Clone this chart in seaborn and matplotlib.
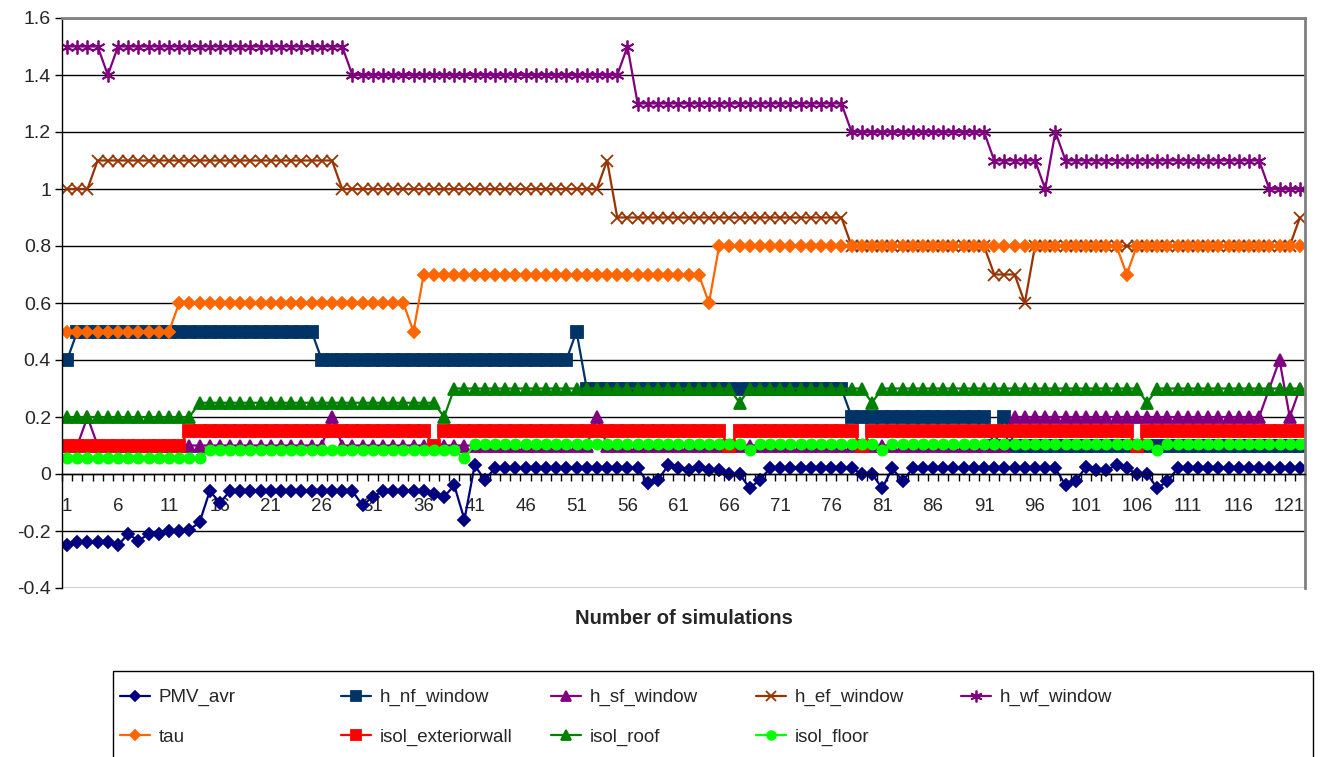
import matplotlib
matplotlib.use('Agg')
import matplotlib.pyplot as plt
import matplotlib.patches as mpatches
from matplotlib.ticker import FixedLocator
import seaborn as sns

# Simulation number (x categories) and tick labels
sims = list(range(1, 123))
xtick_pos = [1, 6, 11, 16, 21, 26, 31, 36, 41, 46, 51, 56, 61, 66, 71, 76, 81, 86, 91, 96, 101, 106, 111, 116, 121]
xtick_labels = ['1', '6', '11', '16', '21', '26', '31', '36', '41', '46', '51', '56', '61', '66', '71', '76',
                '81', '86', '91', '96', '101', '106', '111', '116', '121']
ytick_pos = [-0.4, -0.2, 0, 0.2, 0.4, 0.6, 0.8, 1.0, 1.2, 1.4, 1.6]
ytick_labels = ['-0.4', '-0.2', '0', '0.2', '0.4', '0.6', '0.8', '1', '1.2', '1.4', '1.6']

pmv_avr = [-0.25, -0.24, -0.24, -0.24, -0.24, -0.25, -0.21, -0.235, -0.21, -0.21,
           -0.20, -0.20, -0.195, -0.17, -0.06, -0.10, -0.06, -0.06, -0.06, -0.06,
           -0.06, -0.06, -0.06, -0.06, -0.06, -0.06, -0.06, -0.06, -0.06, -0.11,
           -0.08, -0.06, -0.06, -0.06, -0.06, -0.06, -0.07, -0.08, -0.04, -0.16,
           0.03, -0.02, 0.02, 0.02, 0.02, 0.02, 0.02, 0.02, 0.02, 0.02,
           0.02, 0.02, 0.02, 0.02, 0.02, 0.02, 0.02, -0.03, -0.02, 0.03,
           0.02, 0.015, 0.025, 0.015, 0.015, 0.0, 0.0, -0.05, -0.02, 0.02,
           0.02, 0.02, 0.02, 0.02, 0.02, 0.02, 0.02, 0.02, 0.0, 0.0,
           -0.05, 0.02, -0.025, 0.02, 0.02, 0.02, 0.02, 0.02, 0.02, 0.02,
           0.02, 0.02, 0.02, 0.02, 0.02, 0.02, 0.02, 0.02, -0.04, -0.025,
           0.025, 0.013, 0.015, 0.03, 0.02, 0.0, 0.0, -0.05, -0.025, 0.02,
           0.02, 0.02, 0.02, 0.02, 0.02, 0.02, 0.02, 0.02, 0.02, 0.02,
           0.02, 0.02]

h_nf_window = [0.4, 0.5, 0.5, 0.5, 0.5, 0.5, 0.5, 0.5, 0.5, 0.5,
               0.5, 0.5, 0.5, 0.5, 0.5, 0.5, 0.5, 0.5, 0.5, 0.5,
               0.5, 0.5, 0.5, 0.5, 0.5, 0.4, 0.4, 0.4, 0.4, 0.4,
               0.4, 0.4, 0.4, 0.4, 0.4, 0.4, 0.4, 0.4, 0.4, 0.4,
               0.4, 0.4, 0.4, 0.4, 0.4, 0.4, 0.4, 0.4, 0.4, 0.4,
               0.5, 0.3, 0.3, 0.3, 0.3, 0.3, 0.3, 0.3, 0.3, 0.3,
               0.3, 0.3, 0.3, 0.3, 0.3, 0.3, 0.3, 0.3, 0.3, 0.3,
               0.3, 0.3, 0.3, 0.3, 0.3, 0.3, 0.3, 0.2, 0.2, 0.2,
               0.2, 0.2, 0.2, 0.2, 0.2, 0.2, 0.2, 0.2, 0.2, 0.2,
               0.2, 0.1, 0.2, 0.1, 0.1, 0.1, 0.1, 0.1, 0.1, 0.1,
               0.1, 0.1, 0.1, 0.1, 0.1, 0.1, 0.1, 0.1, 0.1, 0.1,
               0.1, 0.1, 0.1, 0.1, 0.1, 0.1, 0.1, 0.1, 0.1, 0.1,
               0.1, 0.1]

h_sf_window = [0.1, 0.1, 0.2, 0.1, 0.1, 0.1, 0.1, 0.1, 0.1, 0.1,
               0.1, 0.1, 0.1, 0.1, 0.1, 0.1, 0.1, 0.1, 0.1, 0.1,
               0.1, 0.1, 0.1, 0.1, 0.1, 0.1, 0.2, 0.1, 0.1, 0.1,
               0.1, 0.1, 0.1, 0.1, 0.1, 0.1, 0.1, 0.1, 0.1, 0.1,
               0.1, 0.1, 0.1, 0.1, 0.1, 0.1, 0.1, 0.1, 0.1, 0.1,
               0.1, 0.1, 0.2, 0.1, 0.1, 0.1, 0.1, 0.1, 0.1, 0.1,
               0.1, 0.1, 0.1, 0.1, 0.1, 0.1, 0.1, 0.1, 0.1, 0.1,
               0.1, 0.1, 0.1, 0.1, 0.1, 0.1, 0.1, 0.1, 0.1, 0.1,
               0.1, 0.1, 0.1, 0.1, 0.1, 0.1, 0.1, 0.1, 0.1, 0.1,
               0.1, 0.1, 0.1, 0.2, 0.2, 0.2, 0.2, 0.2, 0.2, 0.2,
               0.2, 0.2, 0.2, 0.2, 0.2, 0.2, 0.2, 0.2, 0.2, 0.2,
               0.2, 0.2, 0.2, 0.2, 0.2, 0.2, 0.2, 0.2, 0.3, 0.4,
               0.2, 0.3]

h_ef_window = [1.0, 1.0, 1.0, 1.1, 1.1, 1.1, 1.1, 1.1, 1.1, 1.1,
               1.1, 1.1, 1.1, 1.1, 1.1, 1.1, 1.1, 1.1, 1.1, 1.1,
               1.1, 1.1, 1.1, 1.1, 1.1, 1.1, 1.1, 1.0, 1.0, 1.0,
               1.0, 1.0, 1.0, 1.0, 1.0, 1.0, 1.0, 1.0, 1.0, 1.0,
               1.0, 1.0, 1.0, 1.0, 1.0, 1.0, 1.0, 1.0, 1.0, 1.0,
               1.0, 1.0, 1.0, 1.1, 0.9, 0.9, 0.9, 0.9, 0.9, 0.9,
               0.9, 0.9, 0.9, 0.9, 0.9, 0.9, 0.9, 0.9, 0.9, 0.9,
               0.9, 0.9, 0.9, 0.9, 0.9, 0.9, 0.9, 0.8, 0.8, 0.8,
               0.8, 0.8, 0.8, 0.8, 0.8, 0.8, 0.8, 0.8, 0.8, 0.8,
               0.8, 0.7, 0.7, 0.7, 0.6, 0.8, 0.8, 0.8, 0.8, 0.8,
               0.8, 0.8, 0.8, 0.8, 0.8, 0.8, 0.8, 0.8, 0.8, 0.8,
               0.8, 0.8, 0.8, 0.8, 0.8, 0.8, 0.8, 0.8, 0.8, 0.8,
               0.8, 0.9]

h_wf_window = [1.5, 1.5, 1.5, 1.5, 1.4, 1.5, 1.5, 1.5, 1.5, 1.5,
               1.5, 1.5, 1.5, 1.5, 1.5, 1.5, 1.5, 1.5, 1.5, 1.5,
               1.5, 1.5, 1.5, 1.5, 1.5, 1.5, 1.5, 1.5, 1.4, 1.4,
               1.4, 1.4, 1.4, 1.4, 1.4, 1.4, 1.4, 1.4, 1.4, 1.4,
               1.4, 1.4, 1.4, 1.4, 1.4, 1.4, 1.4, 1.4, 1.4, 1.4,
               1.4, 1.4, 1.4, 1.4, 1.4, 1.5, 1.3, 1.3, 1.3, 1.3,
               1.3, 1.3, 1.3, 1.3, 1.3, 1.3, 1.3, 1.3, 1.3, 1.3,
               1.3, 1.3, 1.3, 1.3, 1.3, 1.3, 1.3, 1.2, 1.2, 1.2,
               1.2, 1.2, 1.2, 1.2, 1.2, 1.2, 1.2, 1.2, 1.2, 1.2,
               1.2, 1.1, 1.1, 1.1, 1.1, 1.1, 1.0, 1.2, 1.1, 1.1,
               1.1, 1.1, 1.1, 1.1, 1.1, 1.1, 1.1, 1.1, 1.1, 1.1,
               1.1, 1.1, 1.1, 1.1, 1.1, 1.1, 1.1, 1.1, 1.0, 1.0,
               1.0, 1.0]

tau = [0.5, 0.5, 0.5, 0.5, 0.5, 0.5, 0.5, 0.5, 0.5, 0.5,
       0.5, 0.6, 0.6, 0.6, 0.6, 0.6, 0.6, 0.6, 0.6, 0.6,
       0.6, 0.6, 0.6, 0.6, 0.6, 0.6, 0.6, 0.6, 0.6, 0.6,
       0.6, 0.6, 0.6, 0.6, 0.5, 0.7, 0.7, 0.7, 0.7, 0.7,
       0.7, 0.7, 0.7, 0.7, 0.7, 0.7, 0.7, 0.7, 0.7, 0.7,
       0.7, 0.7, 0.7, 0.7, 0.7, 0.7, 0.7, 0.7, 0.7, 0.7,
       0.7, 0.7, 0.7, 0.6, 0.8, 0.8, 0.8, 0.8, 0.8, 0.8,
       0.8, 0.8, 0.8, 0.8, 0.8, 0.8, 0.8, 0.8, 0.8, 0.8,
       0.8, 0.8, 0.8, 0.8, 0.8, 0.8, 0.8, 0.8, 0.8, 0.8,
       0.8, 0.8, 0.8, 0.8, 0.8, 0.8, 0.8, 0.8, 0.8, 0.8,
       0.8, 0.8, 0.8, 0.8, 0.7, 0.8, 0.8, 0.8, 0.8, 0.8,
       0.8, 0.8, 0.8, 0.8, 0.8, 0.8, 0.8, 0.8, 0.8, 0.8,
       0.8, 0.8]

isol_exteriorwall = [0.1, 0.1, 0.1, 0.1, 0.1, 0.1, 0.1, 0.1, 0.1, 0.1,
                     0.1, 0.1, 0.15, 0.15, 0.15, 0.15, 0.15, 0.15, 0.15, 0.15,
                     0.15, 0.15, 0.15, 0.15, 0.15, 0.15, 0.15, 0.15, 0.15, 0.15,
                     0.15, 0.15, 0.15, 0.15, 0.15, 0.15, 0.1, 0.15, 0.15, 0.15,
                     0.15, 0.15, 0.15, 0.15, 0.15, 0.15, 0.15, 0.15, 0.15, 0.15,
                     0.15, 0.15, 0.15, 0.15, 0.15, 0.15, 0.15, 0.15, 0.15, 0.15,
                     0.15, 0.15, 0.15, 0.15, 0.15, 0.1, 0.15, 0.15, 0.15, 0.15,
                     0.15, 0.15, 0.15, 0.15, 0.15, 0.15, 0.15, 0.15, 0.1, 0.15,
                     0.15, 0.15, 0.15, 0.15, 0.15, 0.15, 0.15, 0.15, 0.15, 0.15,
                     0.15, 0.15, 0.15, 0.15, 0.15, 0.15, 0.15, 0.15, 0.15, 0.15,
                     0.15, 0.15, 0.15, 0.15, 0.15, 0.1, 0.15, 0.15, 0.15, 0.15,
                     0.15, 0.15, 0.15, 0.15, 0.15, 0.15, 0.15, 0.15, 0.15, 0.15,
                     0.15, 0.15]

isol_roof = [0.2, 0.2, 0.2, 0.2, 0.2, 0.2, 0.2, 0.2, 0.2, 0.2,
             0.2, 0.2, 0.2, 0.25, 0.25, 0.25, 0.25, 0.25, 0.25, 0.25,
             0.25, 0.25, 0.25, 0.25, 0.25, 0.25, 0.25, 0.25, 0.25, 0.25,
             0.25, 0.25, 0.25, 0.25, 0.25, 0.25, 0.25, 0.2, 0.3, 0.3,
             0.3, 0.3, 0.3, 0.3, 0.3, 0.3, 0.3, 0.3, 0.3, 0.3,
             0.3, 0.3, 0.3, 0.3, 0.3, 0.3, 0.3, 0.3, 0.3, 0.3,
             0.3, 0.3, 0.3, 0.3, 0.3, 0.3, 0.25, 0.3, 0.3, 0.3,
             0.3, 0.3, 0.3, 0.3, 0.3, 0.3, 0.3, 0.3, 0.3, 0.25,
             0.3, 0.3, 0.3, 0.3, 0.3, 0.3, 0.3, 0.3, 0.3, 0.3,
             0.3, 0.3, 0.3, 0.3, 0.3, 0.3, 0.3, 0.3, 0.3, 0.3,
             0.3, 0.3, 0.3, 0.3, 0.3, 0.3, 0.25, 0.3, 0.3, 0.3,
             0.3, 0.3, 0.3, 0.3, 0.3, 0.3, 0.3, 0.3, 0.3, 0.3,
             0.3, 0.3]

isol_floor = [0.055, 0.055, 0.055, 0.055, 0.055, 0.055, 0.055, 0.055, 0.055, 0.055,
              0.055, 0.055, 0.055, 0.055, 0.085, 0.085, 0.085, 0.085, 0.085, 0.085,
              0.085, 0.085, 0.085, 0.085, 0.085, 0.085, 0.085, 0.085, 0.085, 0.085,
              0.085, 0.085, 0.085, 0.085, 0.085, 0.085, 0.085, 0.085, 0.085, 0.055,
              0.105, 0.105, 0.105, 0.105, 0.105, 0.105, 0.105, 0.105, 0.105, 0.105,
              0.105, 0.105, 0.105, 0.105, 0.105, 0.105, 0.105, 0.105, 0.105, 0.105,
              0.105, 0.105, 0.105, 0.105, 0.105, 0.105, 0.105, 0.085, 0.105, 0.105,
              0.105, 0.105, 0.105, 0.105, 0.105, 0.105, 0.105, 0.105, 0.105, 0.105,
              0.085, 0.105, 0.105, 0.105, 0.105, 0.105, 0.105, 0.105, 0.105, 0.105,
              0.105, 0.105, 0.105, 0.105, 0.105, 0.105, 0.105, 0.105, 0.105, 0.105,
              0.105, 0.105, 0.105, 0.105, 0.105, 0.105, 0.105, 0.085, 0.105, 0.105,
              0.105, 0.105, 0.105, 0.105, 0.105, 0.105, 0.105, 0.105, 0.105, 0.105,
              0.105, 0.105]

# name, values, colour, marker, marker size
series = [
    ('PMV_avr', pmv_avr, '#000080', 'D', 5.8),
    ('h_nf_window', h_nf_window, '#003366', 's', 8.3),
    ('h_sf_window', h_sf_window, '#800080', '^', 8),
    ('h_ef_window', h_ef_window, '#993300', 'x', 8.5),
    ('h_wf_window', h_wf_window, '#800080', (6, 2, 0), 10),
    ('tau', tau, '#FF6600', 'D', 5.8),
    ('isol_exteriorwall', isol_exteriorwall, '#FF0000', 's', 8.3),
    ('isol_roof', isol_roof, '#008000', '^', 8),
    ('isol_floor', isol_floor, '#00FF00', 'o', 7.3),
]

sns.set_theme(style='white')
plt.rcParams['font.family'] = ['Liberation Sans', 'DejaVu Sans']

fig = plt.figure(figsize=(13.22, 7.57), dpi=100)
ax = fig.add_axes([62 / 1322, 1 - 588 / 757, (1305 - 62) / 1322, (588 - 18) / 757])

handles = {}
for name, vals, col, mk, ms in series:
    sns.lineplot(x=sims, y=vals, ax=ax, color=col, marker=mk, markersize=ms,
                 markeredgecolor=col, markerfacecolor=col, markeredgewidth=1.3,
                 linewidth=1.6, estimator=None, sort=False)
    handles[name] = ax.lines[-1]

ax.set_xlim(0.5, 122.5)
ax.set_ylim(-0.4, 1.6)
ax.set_yticks(ytick_pos)
ax.set_yticklabels(ytick_labels)
ax.set_xticks(xtick_pos)
ax.set_xticklabels(xtick_labels)
ax.xaxis.set_minor_locator(FixedLocator([s - 0.5 for s in sims] + [122.5]))
ax.grid(axis='y', color='black', linewidth=1)
ax.set_axisbelow(True)

# category axis crosses at zero
ax.spines['bottom'].set_position(('data', 0))
ax.spines['bottom'].set_color('black')
ax.spines['bottom'].set_linewidth(1)
ax.spines['left'].set_color('black')
ax.spines['left'].set_linewidth(1)
for side in ['top', 'right']:
    ax.spines[side].set_color('#808080')
    ax.spines[side].set_linewidth(2)

ax.tick_params(axis='y', which='major', direction='out', length=5, width=1, color='black',
               labelsize=14, pad=3, left=True)
ax.tick_params(axis='x', which='major', length=0, labelsize=13.5, pad=17, bottom=True)
ax.tick_params(axis='x', which='minor', direction='out', length=5, width=1, color='black', bottom=True)
ax.set_xlabel('')
ax.set_ylabel('')

fig.text(684 / 1322, 1 - 619 / 757, 'Number of simulations', ha='center', va='center',
         fontsize=14.5, fontweight='bold')

# legend: box plus five columns
fig.add_artist(mpatches.Rectangle((113 / 1322, -0.05), (1313 - 113) / 1322, 0.05 + 1 - 671 / 757,
                                  transform=fig.transFigure, fill=False, edgecolor='black', linewidth=1))
columns = [['PMV_avr', 'tau'], ['h_nf_window', 'isol_exteriorwall'], ['h_sf_window', 'isol_roof'],
           ['h_ef_window', 'isol_floor'], ['h_wf_window']]
col_x = [120, 341, 551, 756, 961]
for names, x in zip(columns, col_x):
    leg = fig.legend([handles[n] for n in names], names, loc='upper left',
                     bbox_to_anchor=(x / 1322, 1 - 689 / 757), frameon=False, fontsize=13.5,
                     borderpad=0, borderaxespad=0, handlelength=1.6, handletextpad=0.45,
                     labelspacing=1.2, markerscale=0.85)

fig.savefig('out.png', dpi=100)
